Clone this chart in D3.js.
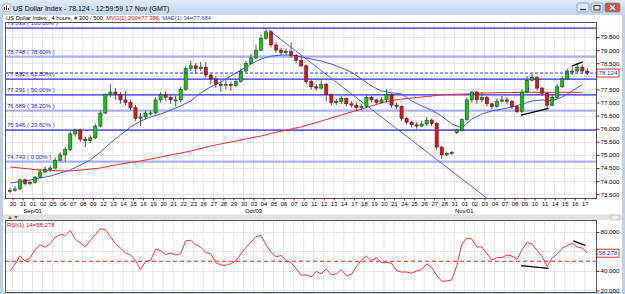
<!DOCTYPE html>
<html>
<head>
<meta charset="utf-8">
<script src="https://cdnjs.cloudflare.com/ajax/libs/d3/7.8.5/d3.min.js"></script>
<style>
body { margin: 0; background: #fff; }
svg { display: block; font-family: "Liberation Sans", Arial, sans-serif; }
</style>
</head>
<body>
<script>
// day labels along the time axis (Aug 30 .. Nov 17), two 4h-ish bars per day
var days = ['30','31','01','02','05','06','07','08','09','12','13','14','15','16','19','20','21','22','23','26','27','28','29','30',
	'03','04','05','06','07','10','11','12','13','14','17','18','19','20','21','24','25','26','27','28','31',
	'01','02','03','04','07','08','09','10','11','14','15','16','17'];
var monthNames = ['Sep/01', 'Oct/03', 'Nov/01'];
var monthDays = [2, 24, 45];

var opens = [73.6,73.65,73.7,74.05,73.9,73.95,74.15,74.35,74.45,74.5,
	74.8,75.0,75.2,75.8,75.95,75.6,75.55,75.65,76.1,76.6,
	77.3,77.4,77.3,77.1,77.0,76.8,76.4,76.45,76.6,76.6,
	77.1,77.3,77.2,77.1,77.1,77.5,78.3,78.4,78.3,78.35,
	78.05,77.9,77.7,77.65,77.7,77.65,77.8,78.2,78.5,78.7,
	79.0,79.45,79.7,79.2,79.0,78.9,78.95,78.8,78.6,78.4,
	77.8,77.6,77.55,77.7,77.3,77.0,77.05,77.15,76.95,76.9,
	76.8,76.85,77.2,77.1,77.0,77.1,77.3,76.9,76.85,76.4,
	76.25,76.15,76.1,76.18,76.33,76.2,75.3,75.0,75.05,75.85,
	75.95,76.35,77.1,77.4,77.1,77.2,76.95,76.85,77.05,77.1,
	77.05,76.85,76.65,77.4,77.85,77.95,77.55,77.35,76.9,77.2,
	77.6,77.9,78.2,78.2,78.35,78.2];
var highs = [73.75,73.8,74.1,74.1,74.0,74.2,74.45,74.55,74.6,74.9,
	75.1,75.3,75.9,76.0,76.0,75.7,75.75,76.2,76.7,77.35,
	77.7,77.55,77.4,77.45,77.1,76.9,76.6,76.7,76.7,77.2,
	77.4,77.45,77.3,77.25,77.6,78.4,78.6,78.5,78.55,78.55,
	78.1,78.0,77.85,77.85,77.8,77.9,78.3,78.6,78.85,79.2,
	79.6,79.84,79.75,79.3,79.1,79.05,79.3,78.85,78.8,78.45,
	77.9,77.7,77.85,77.75,77.35,77.15,77.25,77.2,77.05,77.0,
	76.95,77.3,77.25,77.15,77.2,77.5,77.35,77.0,76.9,76.45,
	76.3,76.25,76.3,76.45,76.4,76.25,75.35,75.12,75.15,76.0,
	76.4,77.2,77.45,77.45,77.4,77.25,77.0,77.15,77.25,77.2,
	77.1,76.9,77.5,78.0,78.1,78.0,77.6,77.4,77.3,77.7,
	78.0,78.3,78.35,78.5,78.45,78.3];
var lows = [73.55,73.6,73.65,73.85,73.85,73.9,74.1,74.3,74.35,74.45,
	74.75,74.75,75.15,75.7,75.5,75.3,75.45,75.6,76.05,76.55,
	77.2,77.1,76.95,76.9,76.7,76.3,76.1,76.35,76.5,76.55,
	77.0,77.05,76.95,76.85,77.0,77.45,78.2,78.1,78.2,77.95,
	77.7,77.55,77.4,77.5,77.45,77.6,77.75,78.15,78.45,78.65,
	78.95,79.4,79.1,78.9,78.8,78.8,78.7,78.5,78.35,77.7,
	77.5,77.45,77.5,77.05,76.9,76.9,76.95,76.85,76.8,76.7,
	76.7,76.8,77.0,76.9,76.95,77.0,76.8,76.75,76.3,76.15,
	76.05,76.0,76.05,76.1,76.1,75.2,74.85,74.95,75.0,75.8,
	75.9,76.3,77.0,76.95,77.0,76.85,76.75,76.8,77.0,76.95,
	76.75,76.6,76.6,77.35,77.8,77.45,77.25,76.8,76.85,77.15,
	77.55,77.85,78.05,78.15,78.1,78.05];
var closes = [73.65,73.7,74.05,73.9,73.95,74.15,74.35,74.45,74.5,74.8,
	75.0,75.2,75.8,75.95,75.6,75.55,75.65,76.1,76.6,77.3,
	77.4,77.3,77.1,77.0,76.8,76.4,76.45,76.6,76.6,77.1,
	77.3,77.2,77.1,77.1,77.5,78.3,78.4,78.3,78.35,78.05,
	77.9,77.7,77.65,77.7,77.65,77.8,78.2,78.5,78.7,79.0,
	79.45,79.7,79.2,79.0,78.9,78.95,78.8,78.6,78.4,77.8,
	77.6,77.55,77.7,77.3,77.0,77.05,77.15,76.95,76.9,76.8,
	76.85,77.2,77.1,77.0,77.1,77.3,76.9,76.85,76.4,76.25,
	76.15,76.1,76.18,76.33,76.2,75.3,75.0,75.05,75.1,75.95,
	76.35,77.1,77.4,77.1,77.2,76.95,76.85,77.05,77.1,77.05,
	76.85,76.65,77.4,77.85,77.95,77.55,77.35,76.9,77.2,77.6,
	77.9,78.2,78.2,78.35,78.2,78.124];

// moving averages, one reading per day
var ma200 = [74.54,74.50,74.46,74.42,74.41,74.39,74.39,74.42,74.46,74.50,
	74.58,74.65,74.71,74.77,74.84,74.92,75.00,75.07,75.15,75.24,
	75.34,75.42,75.49,75.57,75.65,75.72,75.82,75.91,75.99,76.07,
	76.18,76.29,76.41,76.52,76.64,76.75,76.87,76.98,77.08,77.13,
	77.17,77.21,77.25,77.29,77.31,77.32,77.34,77.36,77.37,77.38,
	77.38,77.39,77.39,77.39,77.39,77.39,77.39,77.386];
var ma34 = [73.93,73.97,74.04,74.12,74.19,74.31,74.42,74.61,74.81,75.11,
	75.45,75.76,76.06,76.29,76.45,76.56,76.71,76.87,77.06,77.37,
	77.60,77.78,78.01,78.24,78.47,78.66,78.77,78.81,78.81,78.74,
	78.66,78.58,78.47,78.32,78.16,77.90,77.63,77.44,77.37,77.33,
	77.06,76.87,76.71,76.48,76.18,76.03,76.37,76.56,76.68,76.75,
	76.83,76.94,77.06,77.10,77.06,77.21,77.44,77.684];

var rsi = [40.0,46.9,55.6,50.2,53.5,61.8,66.9,64.4,68.0,74.5,
	77.5,76.4,81.8,72.7,68.7,64.7,71.6,77.1,83.3,82.5,
	75.6,68.0,63.6,58.5,56.7,50.9,41.5,49.8,50.9,62.2,
	61.1,56.7,58.5,56.4,57.8,70.9,71.6,66.9,64.4,58.9,
	57.8,48.4,46.2,45.8,47.6,50.5,57.5,64.4,69.5,75.3,
	76.4,66.9,59.3,54.5,56.0,50.9,48.4,42.6,35.6,36.0,
	33.8,39.6,37.1,42.2,36.0,37.1,41.5,35.3,36.4,44.4,
	51.3,55.3,50.5,53.8,48.4,48.7,48.0,40.4,38.9,38.9,
	37.8,40.0,41.1,47.3,43.6,35.6,29.5,29.8,30.9,45.5,
	67.3,73.8,72.7,64.7,64.7,57.8,51.3,53.8,53.8,56.4,
	55.3,52.0,61.8,69.1,67.6,61.1,54.9,44.7,53.5,57.1,
	63.3,66.2,68.4,64.7,63.6,58.278];

// fibonacci retracement
var fibPct = [0, 23.6, 38.2, 50, 61.8, 78.6, 100];
var fibVal = [74.743, 75.946, 76.689, 77.291, 77.892, 78.748, 79.839];

var priceTicks = [73.5, 74, 74.5, 75, 75.5, 76, 76.5, 77, 77.5, 78, 78.5, 79, 79.5];
var rsiTicks = [20, 40, 60, 80];
var lastPrice = 78.124, lastRsi = 58.278;

// drawn lines: [bar index, value]
var trendLine = [[51.5, 79.77], [96, 73.2]];
var priceDiv = [[101.8, 76.52], [107.3, 76.78]];
var priceTop = [[111.9, 78.39], [114.1, 78.55]];
var rsiDiv1 = [[101.8, 45.5], [107.3, 42.6]];
var rsiDiv2 = [[112.2, 70.9], [114.6, 66.2]];

var W = 625, H = 294;
var pane = {left: 5, right: 596, top: 22, bottom: 198};
var rpane = {left: 5, right: 596, top: 220, bottom: 292};

var svg = d3.select('body').append('svg')
	.attr('width', W)
	.attr('height', H);

var defs = svg.append('defs');
var grad = defs.append('linearGradient').attr('id', 'tbar').attr('x1', 0).attr('y1', 0).attr('x2', 0).attr('y2', 1);
grad.append('stop').attr('offset', 0).attr('stop-color', '#dfeaf8');
grad.append('stop').attr('offset', 1).attr('stop-color', '#c2d6ee');

defs.append('clipPath').attr('id', 'clipP').append('rect')
	.attr('x', pane.left).attr('y', pane.top)
	.attr('width', pane.right - pane.left).attr('height', pane.bottom - pane.top);
defs.append('clipPath').attr('id', 'clipR').append('rect')
	.attr('x', rpane.left).attr('y', rpane.top)
	.attr('width', rpane.right - rpane.left).attr('height', rpane.bottom - rpane.top);

// window chrome
svg.append('rect').attr('width', W).attr('height', H).attr('fill', '#bcd0ea');
svg.append('rect').attr('x', 3).attr('y', 15).attr('width', W - 6).attr('height', H - 17).attr('fill', '#fff');
svg.append('rect').attr('width', W).attr('height', 15).attr('fill', 'url(#tbar)');
svg.append('text').attr('x', 13).attr('y', 10.5)
	.attr('font-size', 7).attr('fill', '#000')
	.text('US Dollar Index - 78.124 - 12:59:59 17 Nov (GMT)');
var icon = svg.append('g').attr('transform', 'translate(3,4)');
icon.append('rect').attr('width', 7).attr('height', 7).attr('fill', '#fff').attr('stroke', '#777').attr('stroke-width', 0.5);
icon.append('path').attr('d', 'M1.5,6V3M3.5,6V1.5M5.5,6V4').attr('stroke', '#333').attr('stroke-width', 1);

var btns = [[577, 12, '#dde8f5'], [591, 12, '#dde8f5'], [605, 15, '#c8554a']];
btns.forEach(function(b) {
	svg.append('rect').attr('x', b[0]).attr('y', 3).attr('width', b[1]).attr('height', 9)
		.attr('rx', 1.5).attr('fill', b[2]).attr('stroke', '#6f87a8').attr('stroke-width', 0.7);
});
svg.append('path').attr('d', 'M580,9.5h6').attr('stroke', '#334').attr('stroke-width', 1.2);
svg.append('rect').attr('x', 594).attr('y', 5.5).attr('width', 6).attr('height', 4.5).attr('fill', 'none').attr('stroke', '#334').attr('stroke-width', 1);
svg.append('path').attr('d', 'M610,5l5,5M615,5l-5,5').attr('stroke', '#fff').attr('stroke-width', 1.3);

// header line
var hdr = svg.append('text').attr('x', 6).attr('y', 20.3).attr('font-size', 5.8);
hdr.append('tspan').attr('fill', '#000').text('US Dollar Index , 4 hours, # 300 / 500, ');
hdr.append('tspan').attr('fill', '#e00000').text('MVG(1) 200=77.386, ');
hdr.append('tspan').attr('fill', '#1a3ce0').text('MAE(1) 34=77.684');

// scales
var x = d3.scaleLinear()
	.domain([0, closes.length - 1])
	.range([10, 587.3]);
var dayX = function(i) { return x(2 * i + 0.5); };
var dayScale = d3.scaleLinear()
	.domain([0, days.length - 1])
	.range([dayX(0), dayX(days.length - 1)]);

var y = d3.scaleLinear()
	.domain([73.355, 80.073])
	.range([pane.bottom, pane.top]);
var ry = d3.scaleLinear()
	.domain([18.46, 91.28])
	.range([292, 221]);

// grids
var grid = svg.append('g').attr('stroke', '#e4e4e4').attr('stroke-width', 1);
days.forEach(function(d, i) {
	grid.append('line').attr('x1', dayScale(i)).attr('x2', dayScale(i)).attr('y1', pane.top).attr('y2', pane.bottom);
	grid.append('line').attr('x1', dayScale(i)).attr('x2', dayScale(i)).attr('y1', rpane.top).attr('y2', rpane.bottom);
});
priceTicks.forEach(function(t) {
	grid.append('line').attr('x1', pane.left).attr('x2', pane.right).attr('y1', Math.round(y(t)) + 0.5).attr('y2', Math.round(y(t)) + 0.5);
});
rsiTicks.forEach(function(t) {
	grid.append('line').attr('x1', rpane.left).attr('x2', rpane.right).attr('y1', Math.round(ry(t)) + 0.5).attr('y2', Math.round(ry(t)) + 0.5);
});

var main = svg.append('g').attr('clip-path', 'url(#clipP)');

// fib levels
var lightFib = [0, 38.2, 78.6];
fibVal.forEach(function(v, i) {
	var light = lightFib.indexOf(fibPct[i]) >= 0;
	main.append('line')
		.attr('x1', pane.left).attr('x2', pane.right)
		.attr('y1', y(v)).attr('y2', y(v))
		.attr('stroke', light ? '#aab0f2' : '#2b2bea')
		.attr('stroke-width', light ? 2.2 : 1.2);
});

// moving averages
var maLine = d3.line()
	.x(function(d, i) { return x(2 * i); })
	.y(function(d) { return y(d); });
main.append('path').datum(ma200).attr('d', maLine)
	.attr('fill', 'none').attr('stroke', '#ff2a2a').attr('stroke-width', 1);
main.append('path').datum(ma34).attr('d', maLine)
	.attr('fill', 'none').attr('stroke', '#3a5cff').attr('stroke-width', 1);

var segLine = d3.line()
	.x(function(d) { return x(d[0]); })
	.y(function(d) { return y(d[1]); });
main.append('path').datum(trendLine).attr('d', segLine)
	.attr('stroke', '#3f55f0').attr('stroke-width', 0.9).attr('fill', 'none');

// candles
var candle = main.append('g').selectAll('g')
	.data(closes)
	.enter().append('g');
candle.append('line')
	.attr('x1', function(d, i) { return x(i); })
	.attr('x2', function(d, i) { return x(i); })
	.attr('y1', function(d, i) { return y(highs[i]); })
	.attr('y2', function(d, i) { return y(lows[i]); })
	.attr('stroke', '#555').attr('stroke-width', 1);
candle.append('rect')
	.attr('x', function(d, i) { return x(i) - 1.6; })
	.attr('width', 3.2)
	.attr('y', function(d, i) { return y(Math.max(opens[i], d)); })
	.attr('height', function(d, i) { return Math.max(1, Math.abs(y(opens[i]) - y(d))); })
	.attr('fill', function(d, i) { return d > opens[i] ? '#10c810' : (d < opens[i] ? '#e81010' : '#888'); })
	.attr('stroke', '#222').attr('stroke-width', 0.5);

// hand drawn lines
[priceDiv, priceTop].forEach(function(l) {
	main.append('path').datum(l).attr('d', segLine)
		.attr('stroke', '#000').attr('stroke-width', 1.3).attr('fill', 'none');
});

// last price
main.append('line')
	.attr('x1', pane.left).attr('x2', pane.right)
	.attr('y1', y(lastPrice)).attr('y2', y(lastPrice))
	.attr('stroke', '#3030e0').attr('stroke-width', 1).attr('stroke-dasharray', '3,2');

// fib labels
fibVal.forEach(function(v, i) {
	main.append('text')
		.attr('x', 7).attr('y', y(v) - 3)
		.attr('font-size', 6).attr('fill', '#2525d8')
		.text(v.toFixed(3) + ' ( ' + fibPct[i].toFixed(2) + '% )');
});

svg.append('rect').attr('x', pane.left + 0.5).attr('y', pane.top + 0.5)
	.attr('width', pane.right - pane.left).attr('height', pane.bottom - pane.top)
	.attr('fill', 'none').attr('stroke', '#555');

// right price axis (labels hidden behind the last-value box are skipped)
var yAxis = d3.axisRight(y)
	.tickValues(priceTicks.filter(function(t) { return Math.abs(y(t) - y(lastPrice)) > 6; }))
	.tickFormat(d3.format('.3f')).tickSize(3).tickPadding(1);
var ya = svg.append('g').attr('transform', 'translate(' + (pane.right + 0.5) + ',0)').call(yAxis);
ya.select('.domain').remove();
ya.selectAll('line').attr('stroke', '#e00000');
ya.selectAll('text').attr('font-size', 6.2).attr('fill', '#000').attr('font-family', '"Liberation Sans", Arial');

svg.append('rect').attr('x', 597).attr('y', y(lastPrice) - 4).attr('width', 22).attr('height', 8)
	.attr('fill', '#fff').attr('stroke', '#e00000').attr('stroke-width', 0.8);
svg.append('text').attr('x', 598.5).attr('y', y(lastPrice) + 2.3)
	.attr('font-size', 6.2).attr('fill', '#1a2fe0').text(lastPrice.toFixed(3));

// time axis
var xAxis = d3.axisBottom(dayScale)
	.tickValues(d3.range(days.length))
	.tickFormat(function(i) { return days[i]; })
	.tickSize(2).tickPadding(1);
var xa = svg.append('g').attr('transform', 'translate(0,' + (pane.bottom + 0.5) + ')').call(xAxis);
xa.select('.domain').remove();
xa.selectAll('line').attr('stroke', '#e00000');
xa.selectAll('text').attr('font-size', 5.8).attr('fill', '#000').attr('font-family', '"Liberation Sans", Arial');

monthNames.forEach(function(m, k) {
	svg.append('text').attr('x', dayScale(monthDays[k])).attr('y', 213)
		.attr('text-anchor', 'middle').attr('font-size', 5.8).attr('fill', '#000').text(m);
});

// splitter strip between panes
svg.append('rect').attr('x', 3).attr('y', 214.5).attr('width', W - 6).attr('height', 5.5).attr('fill', '#e2e2e2');
svg.append('path').attr('d', 'M8,219l2,-3l2,3zM14,216l2,3l2,-3z').attr('fill', '#666');
svg.append('rect').attr('x', 611).attr('y', 215).attr('width', 8).attr('height', 5).attr('fill', '#f2f2f2').attr('stroke', '#999').attr('stroke-width', 0.5);

// RSI pane
var sub = svg.append('g').attr('clip-path', 'url(#clipR)');
sub.append('line')
	.attr('x1', rpane.left).attr('x2', rpane.right)
	.attr('y1', ry(50)).attr('y2', ry(50))
	.attr('stroke', '#ee1c1c').attr('stroke-width', 1).attr('stroke-dasharray', '4,3');
sub.append('path').datum(rsi)
	.attr('d', d3.line().x(function(d, i) { return x(i); }).y(function(d) { return ry(d); }))
	.attr('fill', 'none').attr('stroke', '#ff3030').attr('stroke-width', 1);

var rsiSeg = d3.line()
	.x(function(d) { return x(d[0]); })
	.y(function(d) { return ry(d[1]); });
[rsiDiv1, rsiDiv2].forEach(function(l) {
	sub.append('path').datum(l).attr('d', rsiSeg)
		.attr('stroke', '#000').attr('stroke-width', 1.3).attr('fill', 'none');
});
sub.append('text').attr('x', 7).attr('y', 227).attr('font-size', 6).attr('fill', '#e00000').text('RSI(1) 14=' + lastRsi.toFixed(3));

svg.append('rect').attr('x', rpane.left + 0.5).attr('y', rpane.top + 0.5)
	.attr('width', rpane.right - rpane.left).attr('height', rpane.bottom - rpane.top)
	.attr('fill', 'none').attr('stroke', '#555');

var rAxis = d3.axisRight(ry)
	.tickValues(rsiTicks.filter(function(t) { return Math.abs(ry(t) - ry(lastRsi)) > 6; }))
	.tickFormat(d3.format('.3f')).tickSize(3).tickPadding(1);
var ra = svg.append('g').attr('transform', 'translate(' + (rpane.right + 0.5) + ',0)').call(rAxis);
ra.select('.domain').remove();
ra.selectAll('line').attr('stroke', '#e00000');
ra.selectAll('text').attr('font-size', 6.2).attr('fill', '#000').attr('font-family', '"Liberation Sans", Arial');

svg.append('rect').attr('x', 597).attr('y', ry(lastRsi) - 4).attr('width', 22).attr('height', 8)
	.attr('fill', '#fff').attr('stroke', '#e00000').attr('stroke-width', 0.8);
svg.append('text').attr('x', 598.5).attr('y', ry(lastRsi) + 2.3)
	.attr('font-size', 6.2).attr('fill', '#1a2fe0').text(lastRsi.toFixed(3));
</script>
</body>
</html>
